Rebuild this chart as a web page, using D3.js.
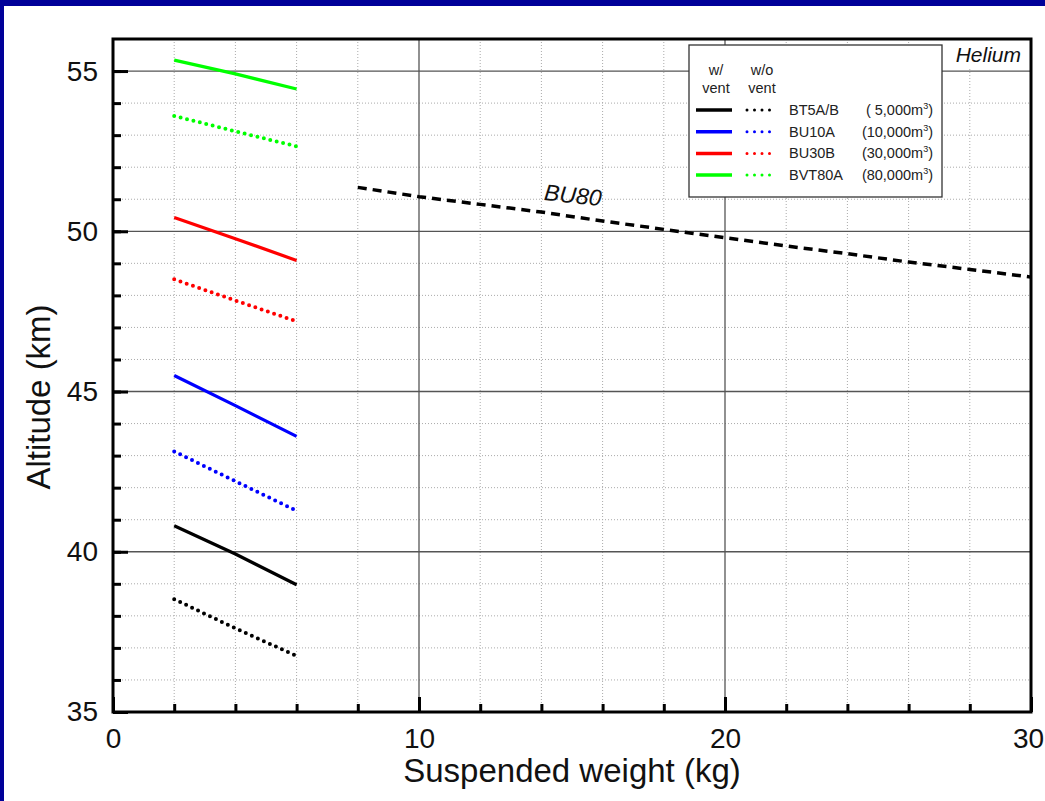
<!DOCTYPE html>
<html>
<head>
<meta charset="utf-8">
<script src="https://cdn.jsdelivr.net/npm/d3@7"></script>
<style>
  body { margin: 0; background: #fff; }
  svg { display: block; font-family: "Liberation Sans", Arial, sans-serif; }
</style>
</head>
<body>
<div id="chart"></div>
<script>
// chart values
var weightShort = [2, 4, 6];
var bt5aVent = [40.81, 39.93, 38.97];
var bt5aNoVent = [38.52, 37.61, 36.75];
var bu10aVent = [45.50, 44.56, 43.60];
var bu10aNoVent = [43.13, 42.20, 41.28];
var bu30bVent = [50.43, 49.77, 49.09];
var bu30bNoVent = [48.50, 47.84, 47.19];
var bvt80aVent = [55.34, 54.91, 54.44];
var bvt80aNoVent = [53.60, 53.12, 52.65];

var bu80Weight = [8, 10, 12, 14, 16, 18, 20, 22, 24, 26, 28, 30];
var bu80Alt = [51.37, 51.08, 50.84, 50.60, 50.32, 50.06, 49.80, 49.54, 49.30, 49.04, 48.81, 48.57];

var balloonNames = ["BT5A/B", "BU10A", "BU30B", "BVT80A"];
var balloonVolumes = ["( 5,000", "(10,000", "(30,000", "(80,000"];
var balloonColors = ["#000000", "#0000ff", "#ff0000", "#00ff00"];

var xTickLabels = [0, 10, 20, 30];
var yTickLabels = [35, 40, 45, 50, 55];

// svg size and margins
var svgWidth = 1045;
var svgHeight = 801;
var margin = { top: 39, right: 14, bottom: 89, left: 113 };
var width = svgWidth - margin.left - margin.right;
var height = svgHeight - margin.top - margin.bottom;

var svg = d3.select("#chart")
  .append("svg")
  .attr("width", svgWidth)
  .attr("height", svgHeight);

// blue slide frame
svg.append("rect").attr("x", 0).attr("y", 0).attr("width", svgWidth).attr("height", 6).attr("fill", "#000099");
svg.append("rect").attr("x", 0).attr("y", 0).attr("width", 4).attr("height", svgHeight).attr("fill", "#000099");

var chartGroup = svg.append("g")
  .attr("transform", `translate(${margin.left}, ${margin.top})`);

var xScale = d3.scaleLinear().domain([0, 30]).range([0, width]);
var yScale = d3.scaleLinear().domain([35, 56]).range([height, 0]);

// minor grid (dotted)
var xMinor = d3.range(0, 31, 2).filter(d => xTickLabels.indexOf(d) < 0);
var yMinor = d3.range(35, 57, 1).filter(d => yTickLabels.indexOf(d) < 0);

chartGroup.append("g").selectAll("line")
  .data(xMinor)
  .enter().append("line")
  .attr("x1", d => xScale(d)).attr("x2", d => xScale(d))
  .attr("y1", 0).attr("y2", height)
  .attr("stroke", "#aaa").attr("stroke-width", 1).attr("stroke-dasharray", "1,2");

chartGroup.append("g").selectAll("line")
  .data(yMinor)
  .enter().append("line")
  .attr("x1", 0).attr("x2", width)
  .attr("y1", d => yScale(d)).attr("y2", d => yScale(d))
  .attr("stroke", "#aaa").attr("stroke-width", 1).attr("stroke-dasharray", "1,2");

// major grid (solid)
chartGroup.append("g").selectAll("line")
  .data(xTickLabels.slice(1, -1))
  .enter().append("line")
  .attr("x1", d => xScale(d)).attr("x2", d => xScale(d))
  .attr("y1", 0).attr("y2", height)
  .attr("stroke", "#555").attr("stroke-width", 1.3);

chartGroup.append("g").selectAll("line")
  .data(yTickLabels.slice(1))
  .enter().append("line")
  .attr("x1", 0).attr("x2", width)
  .attr("y1", d => yScale(d)).attr("y2", d => yScale(d))
  .attr("stroke", "#555").attr("stroke-width", 1.3);

// axes: minor ticks then major ticks with labels, all pointing inward
var xMinorAxis = d3.axisBottom(xScale).tickValues(d3.range(0, 31, 2)).tickSize(-8).tickFormat("");
var yMinorAxis = d3.axisLeft(yScale).tickValues(d3.range(35, 56, 1)).tickSize(-8).tickFormat("");
var xAxis = d3.axisBottom(xScale).tickValues(xTickLabels).tickSize(-15).tickPadding(16).tickFormat(d3.format("d"));
var yAxis = d3.axisLeft(yScale).tickValues(yTickLabels).tickSize(-15).tickPadding(15).tickFormat(d3.format("d"));

[xMinorAxis, xAxis].forEach(function (ax) {
  chartGroup.append("g")
    .attr("class", "axis xaxis")
    .attr("transform", `translate(0, ${height})`)
    .call(ax);
});
[yMinorAxis, yAxis].forEach(function (ax) {
  chartGroup.append("g")
    .attr("class", "axis")
    .call(ax);
});

chartGroup.selectAll(".axis .domain").remove();
chartGroup.selectAll(".axis line").attr("stroke", "#000").attr("stroke-width", 3);
chartGroup.selectAll(".axis text")
  .attr("fill", "#111")
  .style("font-size", "28px");
// last x label sits on the window edge, nudge it in a little
chartGroup.selectAll(".xaxis text").filter(d => d === 30).attr("dx", -3);

// series lines
var line = d3.line()
  .x(d => xScale(d[0]))
  .y(d => yScale(d[1]));

var shortSeries = [
  [bt5aVent, bt5aNoVent],
  [bu10aVent, bu10aNoVent],
  [bu30bVent, bu30bNoVent],
  [bvt80aVent, bvt80aNoVent]
];

shortSeries.forEach(function (pair, i) {
  chartGroup.append("path")
    .datum(weightShort.map((w, j) => [w, pair[0][j]]))
    .attr("d", line)
    .attr("fill", "none")
    .attr("stroke", balloonColors[i])
    .attr("stroke-width", 3.2);
  chartGroup.append("path")
    .datum(weightShort.map((w, j) => [w, pair[1][j]]))
    .attr("d", line)
    .attr("fill", "none")
    .attr("stroke", balloonColors[i])
    .attr("stroke-width", 4)
    .attr("stroke-linecap", "round")
    .attr("stroke-dasharray", "0,6.6");
});

// BU80 dashed curve
chartGroup.append("path")
  .datum(bu80Weight.map((w, j) => [w, bu80Alt[j]]))
  .attr("d", line)
  .attr("fill", "none")
  .attr("stroke", "#000")
  .attr("stroke-width", 3.5)
  .attr("stroke-dasharray", "9,6");

chartGroup.append("text")
  .attr("transform", `translate(${xScale(15)}, ${yScale(50.88)}) rotate(6)`)
  .attr("text-anchor", "middle")
  .style("font-size", "23px")
  .style("font-style", "italic")
  .attr("fill", "#111")
  .text("BU80");

// Helium label
chartGroup.append("rect")
  .attr("x", 830).attr("y", 2)
  .attr("width", width - 832).attr("height", yScale(55) - 4)
  .attr("fill", "#fff");
chartGroup.append("text")
  .attr("x", width - 10)
  .attr("y", 23)
  .attr("text-anchor", "end")
  .style("font-size", "21px")
  .style("font-style", "italic")
  .attr("fill", "#111")
  .text("Helium");

// legend
var legend = chartGroup.append("g")
  .attr("transform", "translate(576, 6)");

legend.append("rect")
  .attr("x", 0).attr("y", 0)
  .attr("width", 253).attr("height", 152)
  .attr("fill", "#fff")
  .attr("stroke", "#333")
  .attr("stroke-width", 1.3);

[["w/", "vent", 27], ["w/o", "vent", 73]].forEach(function (h) {
  var t = legend.append("text")
    .attr("text-anchor", "middle")
    .style("font-size", "14.5px")
    .attr("fill", "#222");
  t.append("tspan").attr("x", h[2]).attr("y", 30).text(h[0]);
  t.append("tspan").attr("x", h[2]).attr("y", 47.5).text(h[1]);
});

balloonNames.forEach(function (name, i) {
  var y = 65 + i * 21.7;
  legend.append("line")
    .attr("x1", 7).attr("x2", 43).attr("y1", y).attr("y2", y)
    .attr("stroke", balloonColors[i]).attr("stroke-width", 3.5);
  legend.append("line")
    .attr("x1", 58).attr("x2", 88).attr("y1", y).attr("y2", y)
    .attr("stroke", balloonColors[i]).attr("stroke-width", 3)
    .attr("stroke-linecap", "round")
    .attr("stroke-dasharray", "0,7.5");
  legend.append("text")
    .attr("x", 100).attr("y", y + 5)
    .style("font-size", "14.5px")
    .attr("fill", "#222")
    .text(name);
  var v = legend.append("text")
    .attr("x", 244).attr("y", y + 5)
    .attr("text-anchor", "end")
    .style("font-size", "14.5px")
    .attr("fill", "#222");
  v.append("tspan").text(balloonVolumes[i] + "m");
  v.append("tspan").attr("dy", -6).style("font-size", "9px").text("3");
  v.append("tspan").attr("dy", 6).text(")");
});

// plot border
chartGroup.append("rect")
  .attr("x", 0).attr("y", 0)
  .attr("width", width).attr("height", height)
  .attr("fill", "none")
  .attr("stroke", "#000")
  .attr("stroke-width", 3);

// axis titles
svg.append("text")
  .attr("x", margin.left + width / 2)
  .attr("y", 782)
  .attr("text-anchor", "middle")
  .style("font-size", "33px")
  .attr("fill", "#111")
  .text("Suspended weight (kg)");

svg.append("text")
  .attr("transform", "translate(50, 397) rotate(-90)")
  .attr("text-anchor", "middle")
  .style("font-size", "33px")
  .attr("fill", "#111")
  .text("Altitude (km)");
</script>
</body>
</html>
